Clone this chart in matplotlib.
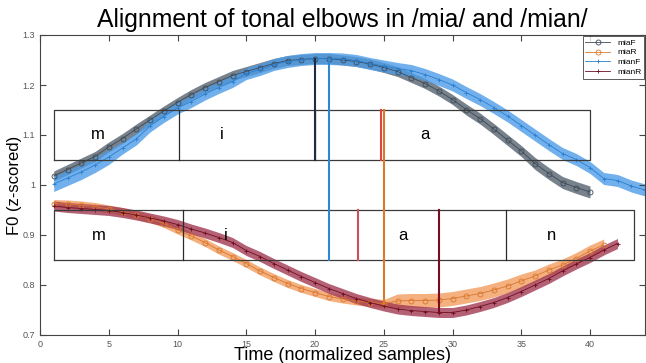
import numpy as np
import matplotlib.pyplot as plt

plt.rcParams['font.family'] = ['Liberation Sans', 'DejaVu Sans']

# ---- data ----
x_miaF = list(range(1, 41))
miaF = [1.018, 1.031, 1.044, 1.057, 1.076, 1.093, 1.112, 1.130, 1.148, 1.165,
        1.181, 1.195, 1.207, 1.219, 1.227, 1.235, 1.243, 1.249, 1.251, 1.253,
        1.253, 1.250, 1.247, 1.242, 1.235, 1.227, 1.215, 1.203, 1.188, 1.171,
        1.151, 1.133, 1.112, 1.090, 1.068, 1.043, 1.023, 1.005, 0.995, 0.986]
se_miaF = [0.010] * 30 + [0.011] * 5 + [0.012] * 5

x_mianF = list(range(1, 45))
mianF = [1.002, 1.014, 1.026, 1.040, 1.056, 1.074, 1.092, 1.118, 1.137, 1.154,
         1.167, 1.182, 1.195, 1.207, 1.223, 1.231, 1.241, 1.247, 1.251, 1.253,
         1.253, 1.252, 1.249, 1.243, 1.238, 1.233, 1.229, 1.221, 1.211, 1.200,
         1.185, 1.171, 1.155, 1.138, 1.119, 1.100, 1.081, 1.063, 1.051, 1.035,
         1.013, 1.009, 0.998, 0.990]
se_mianF = [0.015] * 5 + [0.012] * 39

x_miaR = list(range(1, 42))
miaR = [0.963, 0.962, 0.960, 0.957, 0.952, 0.947, 0.940, 0.933, 0.923, 0.910,
        0.898, 0.885, 0.870, 0.857, 0.843, 0.828, 0.815, 0.803, 0.793, 0.785,
        0.777, 0.772, 0.768, 0.765, 0.763, 0.768, 0.769, 0.769, 0.770, 0.773,
        0.778, 0.783, 0.790, 0.798, 0.808, 0.818, 0.830, 0.840, 0.853, 0.868,
        0.880]
se_miaR = [0.008] * 25 + [0.014] * 10 + [0.012] * 6

x_mianR = list(range(1, 43))
mianR = [0.958, 0.955, 0.953, 0.951, 0.949, 0.945, 0.940, 0.934, 0.928, 0.921,
         0.912, 0.904, 0.895, 0.885, 0.869, 0.857, 0.843, 0.830, 0.817, 0.805,
         0.793, 0.783, 0.773, 0.765, 0.758, 0.752, 0.749, 0.747, 0.745, 0.745,
         0.750, 0.757, 0.765, 0.775, 0.787, 0.800, 0.813, 0.828, 0.842, 0.855,
         0.870, 0.883]
se_mianR = [0.010] * 42

# segment boxes (x boundaries, y range) and labels
upper_bounds = [1, 10.1, 20, 40]
upper_y = (1.05, 1.15)
upper_labels = ['m', 'i', 'a']
upper_label_x = [4.2, 13.2, 28.0]
lower_bounds = [1, 10.4, 33.9, 43.2]
lower_y = (0.85, 0.95)
lower_labels = ['m', 'i', 'a', 'n']
lower_label_x = [4.3, 13.5, 26.4, 37.2]

# elbow markers: (x, y bottom, y top, colour)
elbows = [(20.0, 1.05, 1.253, '#1f2c45'),
          (21.0, 0.85, 1.253, '#2f86d1'),
          (24.8, 1.05, 1.15, '#e0453f'),
          (25.05, 0.763, 1.15, '#e0782a'),
          (23.1, 0.85, 0.95, '#c8505a'),
          (29.0, 0.745, 0.95, '#7a0c22')]

fig = plt.figure(figsize=(6.46, 3.63), dpi=100)
ax = fig.add_axes([40/646, 28/363, 605/646, 300/363])

series = [
    ('miaF', x_miaF, miaF, se_miaF, '#3d4957', '#56636f', 'o'),
    ('miaR', x_miaR, miaR, se_miaR, '#d9772e', '#f29d5e', 'o'),
    ('mianF', x_mianF, mianF, se_mianF, '#2a7fcf', '#4d9de8', '+'),
    ('mianR', x_mianR, mianR, se_mianR, '#6e0e22', '#a33a52', '+'),
]
for name, xs, ys, se, lc, fc, mk in series:
    xs = np.array(xs)
    ys = np.array(ys)
    se = np.array(se)
    ax.fill_between(xs, ys - se, ys + se, color=fc, alpha=0.8, lw=0)
    ax.plot(xs, ys, color=lc, lw=0.6, marker=mk, ms=3.6 if mk == 'o' else 3.4,
            mfc='none', mew=0.6, label=name)

for bounds, (y0, y1), labels, lx in [(upper_bounds, upper_y, upper_labels, upper_label_x),
                                     (lower_bounds, lower_y, lower_labels, lower_label_x)]:
    ax.plot([bounds[0], bounds[-1], bounds[-1], bounds[0], bounds[0]],
            [y0, y0, y1, y1, y0], color='#3a3a3a', lw=0.9)
    for b in bounds[1:-1]:
        ax.plot([b, b], [y0, y1], color='#2a2a2a', lw=0.9)
    for t, xx in zip(labels, lx):
        ax.text(xx, (y0 + y1) / 2, t, fontsize=12, ha='center', va='center')

for xv, yb, yt, c in elbows:
    ax.plot([xv, xv], [yb, yt], color=c, lw=1.5)

ax.set_xlim(0, 44)
ax.set_ylim(0.7, 1.3)
ax.set_xticks(range(0, 45, 5))
ax.set_xticklabels([str(v) for v in range(0, 45, 5)])
ax.set_yticks([0.7, 0.8, 0.9, 1.0, 1.1, 1.2, 1.3])
ax.set_yticklabels(['0.7', '0.8', '0.9', '1', '1.1', '1.2', '1.3'])
ax.tick_params(direction='in', top=True, right=True, labelsize=6.5,
               labelcolor='#555555', length=4, width=0.8, color='#444444')
for s in ax.spines.values():
    s.set_color('#444444')
    s.set_linewidth(0.8)

ax.set_title('Alignment of tonal elbows in /mia/ and /mian/', fontsize=17.8, pad=6)
ax.set_xlabel('Time (normalized samples)', fontsize=13, labelpad=-1)
ax.set_ylabel('F0 (z-scored)', fontsize=12)
ax.yaxis.set_label_coords(-0.029, 0.5)

leg = ax.legend(loc='upper right', fontsize=6, frameon=True, fancybox=False,
                edgecolor='#333333', borderaxespad=0.15, handlelength=3,
                labelspacing=0.25, borderpad=0.3)
leg.get_frame().set_linewidth(0.7)

fig.savefig('out.png', dpi=100)
